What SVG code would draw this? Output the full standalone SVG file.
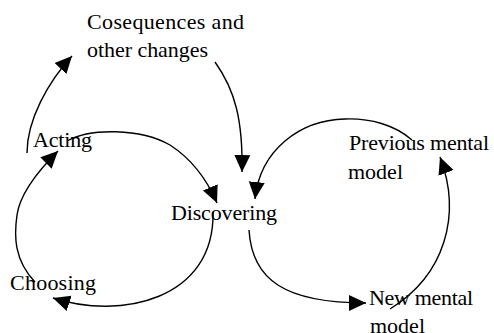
<svg xmlns="http://www.w3.org/2000/svg" width="494" height="333" viewBox="0 0 494 333">
<style>
.t{font-family:"Liberation Serif","Times New Roman",serif;font-size:22px;fill:#000}
.c{fill:none;stroke:#000;stroke-width:1.4}
</style>
<defs>
<marker id="ah" markerUnits="userSpaceOnUse" markerWidth="18" markerHeight="18" refX="17" refY="8" orient="auto" viewBox="0 0 18 16">
<path d="M0,0 L17,8 L0,16 Z" fill="#000"/>
</marker>
</defs>
<rect width="494" height="333" fill="#fff"/>
<g id="connectors">
<path class="c" marker-end="url(#ah)" d="M213,212 C215,300 120,320 53,298"/>
<path class="c" marker-end="url(#ah)" d="M35,282 C14,260 14,236 17,215 C20,193 38,171 58,151"/>
<path class="c" marker-end="url(#ah)" d="M67,141 C90,128 140,128 170,145 C190,158 205,175 217,203"/>
<path class="c" marker-end="url(#ah)" d="M27,153 C27,120 48,82 72,56"/>
<path class="c" marker-end="url(#ah)" d="M215,62 C235,90 243,120 242,172"/>
<path class="c" marker-end="url(#ah)" d="M412,140 C395,125 370,118 345,119 C300,120 260,150 255,199"/>
<path class="c" marker-end="url(#ah)" d="M249,230 C252,280 285,303 366,303"/>
<path class="c" marker-end="url(#ah)" d="M390,309 C445,275 462,215 440,157"/>
</g>
<g id="consequences"><text class="t" x="87" y="29" textLength="157" lengthAdjust="spacing">Cosequences and</text><text class="t" x="87" y="57" textLength="121" lengthAdjust="spacing">other changes</text></g>
<g id="acting"><text class="t" x="33" y="147" textLength="59" lengthAdjust="spacing">Acting</text></g>
<g id="discovering"><text class="t" x="171" y="220" textLength="106" lengthAdjust="spacing">Discovering</text></g>
<g id="choosing"><text class="t" x="10" y="290" textLength="86" lengthAdjust="spacing">Choosing</text></g>
<g id="previous"><text class="t" x="349" y="150" textLength="140" lengthAdjust="spacing">Previous mental</text><text class="t" x="348" y="179" textLength="55" lengthAdjust="spacing">model</text></g>
<g id="new"><text class="t" x="369" y="305" textLength="104" lengthAdjust="spacing">New mental</text><text class="t" x="370" y="333" textLength="55" lengthAdjust="spacing">model</text></g>
</svg>
